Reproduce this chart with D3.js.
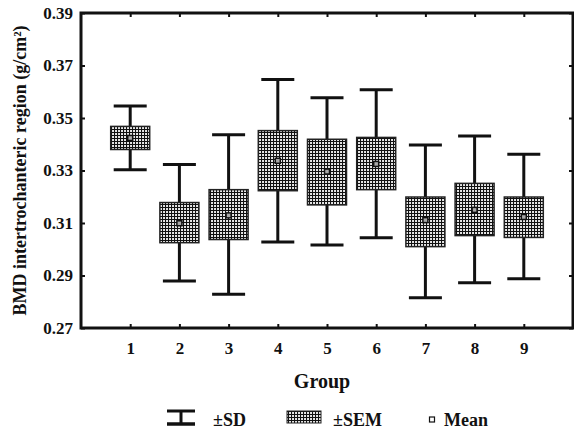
<!DOCTYPE html>
<html>
<head>
<meta charset="utf-8">
<script src="https://cdn.jsdelivr.net/npm/d3@7"></script>
<style>
  body { margin: 0; background: #fff; }
  text { font-family: "Liberation Serif", "Times New Roman", serif; font-weight: bold; fill: #111; }
</style>
</head>
<body>
<div id="chart"></div>
<script>
// groups and summary values (g/cm2)
var groups  = [1, 2, 3, 4, 5, 6, 7, 8, 9];
var means   = [0.3424, 0.3099, 0.3129, 0.3337, 0.3296, 0.3325, 0.3111, 0.3150, 0.3123];
var semHigh = [0.3468, 0.3178, 0.3227, 0.3452, 0.3419, 0.3426, 0.3199, 0.3251, 0.3199];
var semLow  = [0.3380, 0.3025, 0.3037, 0.3223, 0.3169, 0.3227, 0.3010, 0.3052, 0.3045];
var sdHigh  = [0.3546, 0.3323, 0.3436, 0.3647, 0.3577, 0.3608, 0.3397, 0.3431, 0.3362];
var sdLow   = [0.3303, 0.2879, 0.2829, 0.3028, 0.3016, 0.3044, 0.2815, 0.2872, 0.2888];
var yTicks  = [0.27, 0.29, 0.31, 0.33, 0.35, 0.37, 0.39];

var width = 574;
var height = 435;
// plot frame (window.top is reserved, so use prefixed names)
var pLeft = 81, pRight = 573, pTop = 13, pBottom = 328;

var boxW = 39;   // SEM box width
var capW = 33;   // SD cap width

var x = d3.scaleLinear().domain([0, 10]).range([pLeft, pRight]);
var y = d3.scaleLinear().domain([0.27, 0.39]).range([pBottom, pTop]);

var svg = d3.select("#chart")
            .append("svg")
            .attr("width", width)
            .attr("height", height);

// crosshatch used for the SEM boxes
var defs = svg.append("defs");
var pat = defs.append("pattern")
              .attr("id", "hatch")
              .attr("patternUnits", "userSpaceOnUse")
              .attr("width", 3)
              .attr("height", 3);
pat.append("rect").attr("width", 3).attr("height", 3).attr("fill", "#e8e8e8");
pat.append("path")
   .attr("d", "M0,0.5H3M0.5,0V3")
   .attr("stroke", "#111")
   .attr("stroke-width", 1.1);

// axes: ticks point inwards, no domain path
var axL = svg.append("g")
             .attr("transform", "translate(" + pLeft + ",0)")
             .call(d3.axisLeft(y).tickValues(yTicks).tickSize(-4).tickPadding(8)
                     .tickFormat(d3.format(".2f")));
var axB = svg.append("g")
             .attr("transform", "translate(0," + pBottom + ")")
             .call(d3.axisBottom(x).tickValues(groups).tickSize(-4).tickPadding(14)
                     .tickFormat(d3.format("d")));
var axR = svg.append("g")
             .attr("transform", "translate(" + pRight + ",0)")
             .call(d3.axisRight(y).tickValues(yTicks).tickSize(-4).tickFormat(""));
var axT = svg.append("g")
             .attr("transform", "translate(0," + pTop + ")")
             .call(d3.axisTop(x).tickValues(groups).tickSize(-4).tickFormat(""));

[axL, axB, axR, axT].forEach(function(a) {
    a.select(".domain").remove();
    a.selectAll(".tick line").attr("stroke", "#111").attr("stroke-width", 2);
    a.selectAll(".tick text")
     .attr("font-family", "Liberation Serif, serif")
     .attr("font-weight", "bold")
     .attr("font-size", 17)
     .attr("fill", "#111");
});

// frame
svg.append("rect")
   .attr("x", pLeft)
   .attr("y", pTop)
   .attr("width", pRight - pLeft)
   .attr("height", pBottom - pTop)
   .attr("fill", "none")
   .attr("stroke", "#111")
   .attr("stroke-width", 3);

var idx = d3.range(groups.length);
var marks = svg.append("g");

// SD whiskers
marks.selectAll(".stem")
     .data(idx).enter()
     .append("line")
     .attr("x1", function(i) { return x(groups[i]); })
     .attr("x2", function(i) { return x(groups[i]); })
     .attr("y1", function(i) { return y(sdHigh[i]); })
     .attr("y2", function(i) { return y(sdLow[i]); })
     .attr("stroke", "#111")
     .attr("stroke-width", 3);

marks.selectAll(".capHi")
     .data(idx).enter()
     .append("line")
     .attr("x1", function(i) { return x(groups[i]) - capW / 2; })
     .attr("x2", function(i) { return x(groups[i]) + capW / 2; })
     .attr("y1", function(i) { return y(sdHigh[i]); })
     .attr("y2", function(i) { return y(sdHigh[i]); })
     .attr("stroke", "#111")
     .attr("stroke-width", 3);

marks.selectAll(".capLo")
     .data(idx).enter()
     .append("line")
     .attr("x1", function(i) { return x(groups[i]) - capW / 2; })
     .attr("x2", function(i) { return x(groups[i]) + capW / 2; })
     .attr("y1", function(i) { return y(sdLow[i]); })
     .attr("y2", function(i) { return y(sdLow[i]); })
     .attr("stroke", "#111")
     .attr("stroke-width", 3);

// SEM boxes
marks.selectAll(".sem")
     .data(idx).enter()
     .append("rect")
     .attr("x", function(i) { return x(groups[i]) - boxW / 2; })
     .attr("y", function(i) { return y(semHigh[i]); })
     .attr("width", boxW)
     .attr("height", function(i) { return y(semLow[i]) - y(semHigh[i]); })
     .attr("fill", "url(#hatch)")
     .attr("stroke", "#222")
     .attr("stroke-width", 1.5);

// means
marks.selectAll(".mean")
     .data(idx).enter()
     .append("rect")
     .attr("x", function(i) { return x(groups[i]) - 2.5; })
     .attr("y", function(i) { return y(means[i]) - 2.5; })
     .attr("width", 5)
     .attr("height", 5)
     .attr("fill", "#aaa")
     .attr("stroke", "#111")
     .attr("stroke-width", 1.5);

// axis titles
svg.append("text")
   .attr("transform", "translate(26," + ((pTop + pBottom) / 2) + ") rotate(-90)")
   .attr("text-anchor", "middle")
   .attr("font-size", 18)
   .text("BMD intertrochanteric region (g/cm²)");

svg.append("text")
   .attr("x", 322)
   .attr("y", 388)
   .attr("text-anchor", "middle")
   .attr("font-size", 20)
   .text("Group");

// legend
var lg = svg.append("g");
lg.append("line").attr("x1", 167).attr("x2", 195).attr("y1", 411).attr("y2", 411)
  .attr("stroke", "#111").attr("stroke-width", 3);
lg.append("line").attr("x1", 167).attr("x2", 195).attr("y1", 424).attr("y2", 424)
  .attr("stroke", "#111").attr("stroke-width", 3.5);
lg.append("line").attr("x1", 181).attr("x2", 181).attr("y1", 411).attr("y2", 424)
  .attr("stroke", "#111").attr("stroke-width", 3);
lg.append("text").attr("x", 213).attr("y", 426).attr("font-size", 18).text("±SD");

lg.append("rect").attr("x", 287).attr("y", 411).attr("width", 34).attr("height", 12)
  .attr("fill", "url(#hatch)").attr("stroke", "#222").attr("stroke-width", 1);
lg.append("text").attr("x", 333).attr("y", 426).attr("font-size", 18).text("±SEM");

lg.append("rect").attr("x", 429.5).attr("y", 417).attr("width", 5).attr("height", 5)
  .attr("fill", "#fff").attr("stroke", "#111").attr("stroke-width", 1.2);
lg.append("text").attr("x", 444).attr("y", 426).attr("font-size", 18).text("Mean");
</script>
</body>
</html>
